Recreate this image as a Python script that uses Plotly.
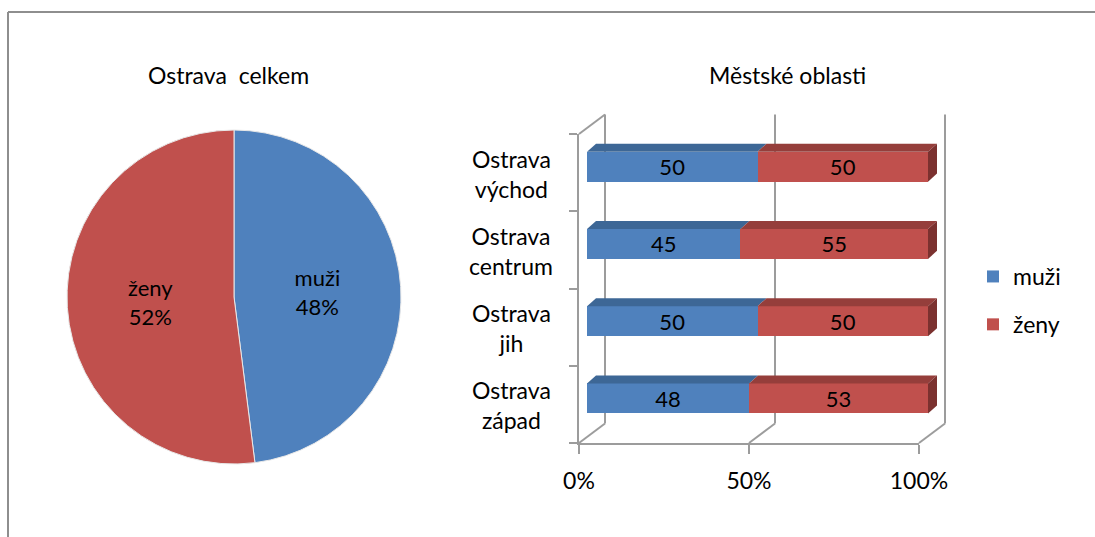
import plotly.graph_objects as go

# ---------------- data ----------------
pie_labels = ["muži", "ženy"]
pie_values = [48, 52]

categories = ["Ostrava<br>východ", "Ostrava<br>centrum", "Ostrava<br>jih", "Ostrava<br>západ"]
men = [50, 45, 50, 48]
women = [50, 55, 50, 53]
series_names = ["muži", "ženy"]
tick_vals = [0, 50, 100]
tick_text = ["0%", "50%", "100%"]

# ---------------- style ----------------
W, H = 1095, 537
BLUE, RED = "#4F81BD", "#C0504D"
BLUE_TOP, RED_TOP, RED_SIDE = "#3D6796", "#953E3B", "#7B312F"
GRID = "#9C9C9C"
FONT = "Lato"
FS = 23


def fx(p):
    return p / W


def fy(p):
    return 1 - p / H


# front plane of the 3D box (pixels)
FX0, FX1, FY0, FY1 = 579, 919, 134, 443
# bar plane (shifted into depth)
BX0, BX1, BY0, BY1 = 587, 928, 128, 437
# full depth offset of back wall
DX, DY = 26, -19.5
# bar face depth (pixels)
TX, TY = 9, -8

n = len(categories)
ypos = list(range(n - 1, -1, -1))
tot = [m + w for m, w in zip(men, women)]
pct_m = [m / t * 100 for m, t in zip(men, tot)]
pct_w = [w / t * 100 for w, t in zip(women, tot)]

px_x = (BX1 - BX0) / 100.0
px_y = (BY1 - BY0) / n
bar_w = 30 / px_y
xmax = 103

fig = go.Figure()

fig.add_trace(go.Pie(
    labels=pie_labels, values=pie_values, sort=False, direction="clockwise", rotation=0,
    marker=dict(colors=[BLUE, RED], line=dict(color="#E8E8E8", width=1)),
    texttemplate="%{label}<br>%{percent:.0%}", textposition="inside",
    insidetextorientation="horizontal",
    textfont=dict(family=FONT, size=FS - 1, color="black"),
    domain=dict(x=[fx(234 - 167), fx(234 + 167)], y=[fy(297 + 167), fy(297 - 167)]),
    showlegend=False, hoverinfo="skip"))

for name, vals, pct, col, grp in [(series_names[0], men, pct_m, BLUE, "a"),
                                  (series_names[1], women, pct_w, RED, "b")]:
    fig.add_trace(go.Bar(
        x=pct, y=ypos, orientation="h", width=bar_w, name=name, legendgroup=grp,
        marker=dict(color=col, line=dict(width=0)), text=[str(v) for v in vals],
        textposition="inside", insidetextanchor="middle", constraintext="none",
        textfont=dict(family=FONT, size=FS - 1, color="black"), textangle=0,
        xaxis="x2", yaxis="y2", hoverinfo="skip"))

fig.add_trace(go.Scatter(x=[0], y=[0], xaxis="x3", yaxis="y3", mode="markers",
                         marker=dict(opacity=0), showlegend=False, hoverinfo="skip"))

shapes = []
# 3D faces of the bars (from data)
dx = TX / px_x
dy = -TY / px_y
for i in range(n):
    yt = ypos[i] + bar_w / 2
    yb = ypos[i] - bar_w / 2
    segs = [(0, pct_m[i], BLUE_TOP), (pct_m[i], 100, RED_TOP)]
    for x0, x1, c in segs:
        shapes.append(dict(type="path", xref="x2", yref="y2", layer="above", line=dict(width=0),
                           fillcolor=c,
                           path=f"M{x0},{yt} L{x1},{yt} L{x1+dx},{yt+dy} L{x0+dx},{yt+dy} Z"))
    shapes.append(dict(type="path", xref="x2", yref="y2", layer="above", line=dict(width=0),
                       fillcolor=RED_SIDE,
                       path=f"M100,{yt} L{100+dx},{yt+dy} L{100+dx},{yb+dy} L100,{yb} Z"))

# walls
def pline(x0, y0, x1, y1, color=GRID, width=2):
    return dict(type="line", xref="paper", yref="paper", layer="below",
                x0=fx(x0), y0=fy(y0), x1=fx(x1), y1=fy(y1),
                line=dict(color=color, width=width))


for t in tick_vals:
    xf = FX0 + (FX1 - FX0) * t / 100
    shapes.append(pline(xf + DX, FY0 + DY, xf + DX, FY1 + DY))
    shapes.append(pline(xf, FY1, xf + DX, FY1 + DY))
shapes.append(pline(FX0, FY0, FX0 + DX, FY0 + DY))

# outer frame
shapes.append(pline(8, 12, W, 12, color="#8E8E8E", width=2))
shapes.append(pline(8, 12, 8, H, color="#8E8E8E", width=2))

annotations = [
    dict(text="Ostrava\u00a0 celkem", x=fx(228), y=fy(75), xref="paper", yref="paper",
         xanchor="center", yanchor="middle",
         showarrow=False, font=dict(family=FONT, size=FS, color="black")),
    dict(text="Městské oblasti", x=fx(787), y=fy(75), xref="paper", yref="paper",
         xanchor="center", yanchor="middle",
         showarrow=False, font=dict(family=FONT, size=FS, color="black")),
]
for i, c in enumerate(categories):
    annotations.append(dict(text=c, x=fx(511), y=ypos[i], xref="paper", yref="y3",
                            xanchor="center", yanchor="middle",
                            showarrow=False, align="center", yshift=-1,
                            font=dict(family=FONT, size=FS, color="black")))

fig.update_layout(
    width=W, height=H, margin=dict(l=0, r=0, t=0, b=0, pad=0, autoexpand=False),
    paper_bgcolor="white", plot_bgcolor="rgba(0,0,0,0)",
    barmode="stack", font=dict(family=FONT, size=FS, color="black"),
    xaxis2=dict(domain=[fx(BX0), fx(BX0 + xmax * px_x)], range=[0, xmax], visible=False,
                anchor="y2", fixedrange=True),
    yaxis2=dict(domain=[fy(BY1), fy(BY0)], range=[-0.5, n - 0.5], visible=False,
                anchor="x2", fixedrange=True),
    xaxis3=dict(domain=[fx(FX0), fx(FX1)], range=[0, 100], tickvals=tick_vals, ticktext=tick_text,
                ticks="outside", ticklen=9, tickwidth=2, tickcolor=GRID, ticklabelstandoff=7,
                showline=True, linecolor=GRID, linewidth=2, showgrid=False, zeroline=False,
                anchor="y3", tickfont=dict(family=FONT, size=FS, color="black"), fixedrange=True),
    yaxis3=dict(domain=[fy(FY1), fy(FY0)], range=[-0.5, n - 0.5],
                tickvals=[k - 0.5 for k in range(n + 1)], showticklabels=False,
                ticks="outside", ticklen=8, tickwidth=2, tickcolor=GRID,
                showline=True, linecolor=GRID, linewidth=2, showgrid=False, zeroline=False,
                anchor="x3", fixedrange=True),
    legend=dict(x=fx(973), y=fy(255), xanchor="left", yanchor="top", tracegroupgap=15,
                font=dict(family=FONT, size=FS, color="black"), bgcolor="rgba(0,0,0,0)"),
    shapes=shapes, annotations=annotations,
)

fig.write_html("out.html", config={"displayModeBar": False},
               post_script="document.body.style.margin='0px';")
